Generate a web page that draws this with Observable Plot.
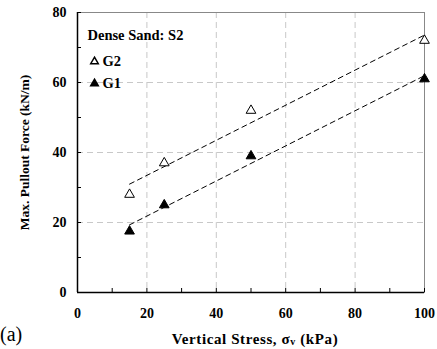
<!DOCTYPE html>
<html><head><meta charset="utf-8">
<script src="https://cdn.jsdelivr.net/npm/d3@7"></script>
<script src="https://cdn.jsdelivr.net/npm/@observablehq/plot@0.6"></script>
<style>
body{margin:0;background:#fff;}
#wrap{position:relative;width:437px;height:349px;}
#chart svg, #chart svg text{font-family:"Liberation Serif","Times New Roman",serif !important;font-weight:bold;}
#lab{position:absolute;left:0px;top:323px;font:20px "Liberation Serif",serif;line-height:22px;}
#xl{position:absolute;left:77px;width:356px;top:331px;text-align:center;font:bold 15px "Liberation Serif",serif;line-height:17px;letter-spacing:0.6px;}
#xl sub{font-size:10px;vertical-align:-1px;}
</style>
</head><body>
<div id="wrap"><div id="chart"></div><div id="lab">(a)</div><div id="xl">Vertical Stress, σ<sub>v</sub> (kPa)</div></div>
<script>
const stress = [15, 25, 50, 100];
const g2 = [28, 37, 52, 72];
const g1 = [17.5, 25, 39, 61];
const xTicks = [0, 20, 40, 60, 80, 100];
const yTicks = [0, 20, 40, 60, 80];
const xMinor = [0,10,20,30,40,50,60,70,80,90,100];
const yMinor = [0,10,20,30,40,50,60,70,80];
const gridX = [20, 40, 60, 80];
const gridY = [20, 40, 60];

const rows = [
  ...stress.map((s,i)=>({x:s,y:g2[i],series:"G2"})),
  ...stress.map((s,i)=>({x:s,y:g1[i],series:"G1"}))
];
const W = 437, H = 349, mL = 77, mR = 13, mT = 12, mB = 57;
const fw = W - mL - mR, fh = H - mT - mB;

const svg = Plot.plot({
  width: W, height: H,
  marginLeft: mL, marginRight: mR, marginTop: mT, marginBottom: mB,
  x: {domain: [0, 100]},
  y: {domain: [0, 80]},
  marks: [
    Plot.ruleX(gridX, {stroke: "#c8c8c8", strokeDasharray: "6,4", strokeWidth: 1}),
    Plot.ruleY(gridY, {stroke: "#c8c8c8", strokeDasharray: "6,4", strokeWidth: 1}),
    Plot.frame({stroke: "#888", strokeWidth: 1}),
    Plot.ruleX([0], {stroke: "#000", strokeWidth: 1.5}),
    Plot.ruleY([0], {stroke: "#000", strokeWidth: 1.5}),
    Plot.tickX(xMinor, {insetTop: fh - 4, stroke: "#000"}),
    Plot.tickY(yMinor, {insetRight: fw - 4, stroke: "#000"}),
    Plot.axisX(xTicks, {tickSize: 0, tickPadding: 16, fontSize: 14, label: null}),
    Plot.axisY(yTicks, {tickSize: 0, tickPadding: 11, fontSize: 14, label: null}),
    Plot.linearRegressionY(rows, {x: "x", y: "y", z: "series", ci: 0, stroke: "#000", strokeWidth: 1, strokeDasharray: "5,4"}),
    Plot.dot(rows, {x: "x", y: "y", symbol: "triangle", r: 3.6,
      fill: d => d.series === "G2" ? "#fff" : "#000", stroke: "#000", strokeWidth: 1}),
    Plot.text(["Dense Sand: S2"], {frameAnchor: "top-left", dx: 10, dy: 23, textAnchor: "start", lineAnchor: "middle", fontSize: 14.5}),
    Plot.dot([0], {frameAnchor: "top-left", dx: 17, dy: 49, symbol: "triangle", r: 2.8, fill: "#fff", stroke: "#000"}),
    Plot.text(["G2"], {frameAnchor: "top-left", dx: 25, dy: 49, textAnchor: "start", lineAnchor: "middle", fontSize: 14.5}),
    Plot.dot([0], {frameAnchor: "top-left", dx: 17, dy: 71, symbol: "triangle", r: 2.8, fill: "#000", stroke: "#000"}),
    Plot.text(["G1"], {frameAnchor: "top-left", dx: 25, dy: 71, textAnchor: "start", lineAnchor: "middle", fontSize: 14.5}),
    Plot.text(["Max. Pullout Force (kN/m)"], {frameAnchor: "left", dx: -53, rotate: -90, textAnchor: "middle", lineAnchor: "middle", fontSize: 13.5})
  ]
});
document.getElementById("chart").appendChild(svg);
</script>
</body></html>
